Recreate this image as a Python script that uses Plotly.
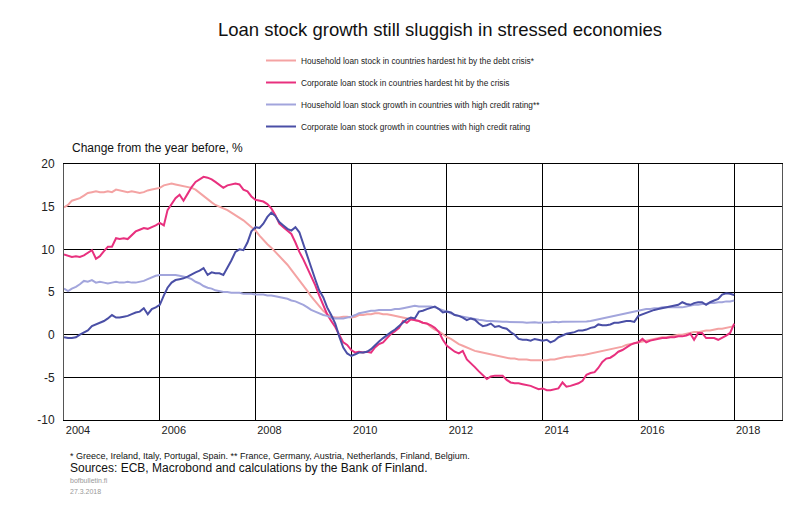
import pandas as pd
import plotly.graph_objects as go

# Monthly observations, January 2004 - January 2018
months = pd.date_range("2004-01-01", "2018-01-01", freq="MS")

hh_stressed = [
    14.9, 15.2, 15.7, 15.9, 16.0, 16.3, 16.6, 16.7, 16.8, 16.7, 16.7, 16.8,
    16.7, 17.0, 16.9, 16.8, 16.7, 16.8, 16.7, 16.6, 16.7, 16.9, 17.0, 17.1,
    17.2, 17.5, 17.6, 17.7, 17.6, 17.5, 17.4, 17.3, 17.2, 17.0, 16.6, 16.3,
    15.9, 15.5, 15.2, 15.0, 14.8, 14.6, 14.3, 14.0, 13.7, 13.4, 13.0, 12.6,
    12.2, 11.6, 11.1, 10.6, 10.2, 9.7, 9.2, 8.8, 8.2, 7.6, 7.0, 6.3,
    5.7, 5.1, 4.5, 3.9, 3.3, 2.8, 2.4, 2.1, 2.0, 2.0, 2.1, 2.1,
    2.0, 2.1, 2.3, 2.3, 2.4, 2.4, 2.5, 2.5, 2.4, 2.4, 2.3, 2.2,
    2.1, 2.0, 1.9, 1.8, 1.7, 1.6, 1.4, 1.3, 0.9, 0.6, 0.4, 0.0,
    -0.3, -0.5, -0.8, -1.1, -1.3, -1.5, -1.7, -1.9, -2.0, -2.1, -2.2, -2.3,
    -2.4, -2.5, -2.6, -2.7, -2.8, -2.8, -2.9, -2.9, -2.9, -3.0, -3.0, -3.0,
    -3.0, -3.0, -2.9, -2.9, -2.8, -2.7, -2.6, -2.6, -2.5, -2.4, -2.4, -2.3,
    -2.2, -2.1, -2.0, -1.9, -1.8, -1.7, -1.6, -1.5, -1.4, -1.2, -1.1, -1.0,
    -0.9, -0.8, -0.7, -0.6, -0.5, -0.4, -0.3, -0.3, -0.2, -0.1, 0.0, 0.0,
    0.1, 0.2, 0.3, 0.3, 0.4, 0.5, 0.5, 0.6, 0.7, 0.7, 0.8, 0.9,
    1.0,
]

corp_stressed = [
    9.4, 9.2, 9.1, 9.2, 9.1, 9.3, 9.6, 9.9, 8.9, 9.2, 9.8, 10.3,
    10.3, 11.3, 11.2, 11.3, 11.2, 11.7, 12.1, 12.3, 12.5, 12.4, 12.6, 12.8,
    13.1, 12.8, 14.6, 15.3, 16.0, 16.4, 15.7, 16.5, 17.3, 17.9, 18.2, 18.5,
    18.4, 18.2, 17.9, 17.5, 17.2, 17.5, 17.6, 17.7, 17.6, 17.0, 16.8, 16.2,
    15.8, 15.7, 15.6, 15.3, 14.8, 14.0, 13.0, 12.6, 12.2, 11.8, 10.8, 9.7,
    8.8, 7.8, 6.9, 5.8, 4.6, 3.4, 2.4, 1.6, 0.9, 0.0, -0.9, -1.2,
    -1.8, -2.1, -2.0, -2.1, -2.0, -2.1, -1.5, -1.1, -0.9, -0.4, 0.1, 0.4,
    0.8, 1.6, 1.4, 1.8, 1.7, 1.6, 1.4, 1.3, 1.1, 0.8, 0.3, -0.6,
    -1.3, -1.7, -2.0, -2.2, -1.9, -2.9, -3.4, -3.8, -4.3, -4.7, -5.2, -4.9,
    -4.8, -4.8, -4.8, -5.3, -5.6, -5.7, -5.7, -5.8, -5.9, -6.0, -6.2, -6.4,
    -6.3, -6.5, -6.5, -6.4, -6.3, -5.6, -6.1, -6.0, -5.8, -5.7, -5.4, -4.7,
    -4.5, -4.4, -3.9, -3.2, -2.8, -2.7, -2.4, -2.0, -1.8, -1.5, -1.2, -1.0,
    -0.9, -0.5, -0.9, -0.7, -0.6, -0.5, -0.4, -0.4, -0.3, -0.3, -0.2, -0.2,
    -0.1, 0.1, -0.6, 0.2, 0.2, -0.4, -0.4, -0.4, -0.6, -0.4, -0.1, 0.2,
    1.3,
]

hh_high = [
    5.4, 5.1, 5.4, 5.6, 5.9, 6.3, 6.2, 6.4, 6.1, 6.2, 6.1, 6.0,
    6.1, 6.2, 6.1, 6.1, 6.2, 6.1, 6.1, 6.2, 6.3, 6.5, 6.7, 6.9,
    7.0, 7.0, 7.0, 7.0, 7.0, 6.9, 6.8, 6.7, 6.5, 6.2, 6.0, 5.7,
    5.5, 5.4, 5.2, 5.1, 5.0, 5.0, 4.9, 4.9, 4.9, 4.8, 4.8, 4.8,
    4.7, 4.7, 4.7, 4.6, 4.6, 4.5, 4.4, 4.3, 4.2, 4.0, 3.9, 3.7,
    3.5, 3.2, 2.9, 2.7, 2.5, 2.3, 2.2, 2.0, 1.9, 1.9, 1.9, 2.0,
    2.1, 2.3, 2.5, 2.6, 2.7, 2.8, 2.8, 2.9, 2.9, 2.9, 2.9, 3.0,
    3.0, 3.1, 3.2, 3.3, 3.4, 3.3, 3.3, 3.3, 3.3, 3.2, 3.0, 2.9,
    2.7, 2.5, 2.3, 2.2, 2.1, 2.0, 1.9, 1.8, 1.75, 1.7, 1.6, 1.6,
    1.55, 1.5, 1.5, 1.5, 1.5, 1.45, 1.45, 1.45, 1.4, 1.45, 1.45, 1.4,
    1.4, 1.45, 1.45, 1.5, 1.45, 1.5, 1.5, 1.5, 1.5, 1.5, 1.55, 1.55,
    1.6, 1.7, 1.75, 1.85, 1.95, 2.05, 2.2, 2.3, 2.4, 2.5, 2.6, 2.7,
    2.8, 2.9, 3.0, 3.0, 3.1, 3.1, 3.2, 3.2, 3.2, 3.2, 3.2, 3.2,
    3.3, 3.4, 3.5, 3.5, 3.6, 3.6, 3.7, 3.7, 3.8, 3.8, 3.9, 3.9,
    4.0,
]

corp_high = [
    -0.3, -0.4, -0.4, -0.3, 0.0, 0.3, 0.5, 1.0, 1.2, 1.4, 1.6, 1.9,
    2.3, 2.0, 2.0, 2.1, 2.2, 2.4, 2.6, 2.7, 3.1, 2.4, 3.0, 3.2,
    3.5, 4.6, 5.5, 6.1, 6.4, 6.5, 6.6, 6.8, 7.1, 7.3, 7.5, 7.8,
    7.0, 7.3, 7.2, 7.2, 7.0, 7.8, 8.7, 9.7, 10.0, 9.9, 10.8, 12.1,
    12.6, 12.5, 13.0, 13.8, 14.3, 13.9, 13.2, 12.8, 12.4, 12.2, 12.6, 12.0,
    10.5, 9.2, 7.9, 6.5, 5.2, 4.4, 3.2, 2.3, 1.3, -0.2, -1.5, -2.2,
    -2.5, -2.3, -2.1, -2.1, -2.0, -1.7, -1.2, -0.8, -0.4, 0.0, 0.3, 0.6,
    1.0, 1.4, 1.8, 2.0, 1.9, 2.7, 2.8, 3.0, 3.2, 3.3, 3.0, 2.6,
    2.7, 2.6, 2.3, 2.2, 2.0, 1.7, 1.9, 1.75, 1.3, 1.0, 1.1, 1.3,
    0.9, 1.0, 0.8, 0.7, 0.3, 0.0, -0.5, -0.6, -0.6, -0.7, -0.5, -0.6,
    -0.7, -0.6, -0.9, -0.7, -0.3, -0.1, 0.1, 0.2, 0.3, 0.5, 0.5, 0.6,
    0.8, 0.9, 1.2, 1.1, 1.1, 1.2, 1.4, 1.4, 1.5, 1.6, 1.6, 1.5,
    2.2, 2.4, 2.6, 2.8, 2.9, 3.0, 3.1, 3.2, 3.3, 3.4, 3.5, 3.8,
    3.6, 3.5, 3.7, 3.8, 3.8, 3.5, 3.8, 4.0, 4.2, 4.7, 4.85, 4.8,
    4.65,
]

series_names = [
    "Household loan stock in countries hardest hit by the debt crisis*",
    "Corporate loan stock in countries hardest hit by the crisis",
    "Household loan stock growth in countries with high credit rating**",
    "Corporate loan stock growth in countries with high credit rating",
]
series_colors = ["#F4A3A3", "#E8307E", "#A2A5DC", "#4A4FA6"]
series_values = [hh_stressed, corp_stressed, hh_high, corp_high]

x_tick_years = list(range(2004, 2019, 2))
y_tick_values = [-10, -5, 0, 5, 10, 15, 20]

FONT = "Liberation Sans, Arial, sans-serif"

W, H = 800, 522
ML, MR, MT, MB = 64, 18, 164, 102
PW, PH = W - ML - MR, H - MT - MB


def px_to_paper(px, py):
    return (px - ML) / PW, (H - MB - py) / PH


fig = go.Figure()
for i, (name, color, vals) in enumerate(zip(series_names, series_colors, series_values)):
    fig.add_trace(go.Scatter(
        x=months, y=vals, mode="lines", name=name,
        legendgroup=f"g{i}",
        line=dict(color=color, width=2),
    ))

fig.update_layout(
    width=W, height=H,
    paper_bgcolor="white", plot_bgcolor="white",
    margin=dict(l=ML, r=MR, t=MT, b=MB, autoexpand=False),
    font=dict(family=FONT, color="#222"),
    showlegend=True,
    title=dict(
        text="Loan stock growth still sluggish in stressed economies",
        x=440 / W, xanchor="center", xref="container",
        y=1 - 30 / H, yanchor="middle", yref="container",
        font=dict(size=18.5, color="#111", family=FONT),
    ),
    legend=dict(
        xref="container", yref="container",
        x=261 / W, y=1 - 46 / H, xanchor="left", yanchor="top",
        font=dict(size=8.3, color="#222", family=FONT),
        tracegroupgap=3, itemwidth=30,
        bgcolor="rgba(0,0,0,0)",
    ),
)

fig.update_xaxes(
    type="date",
    range=["2004-01-01", "2019-01-01"],
    tickmode="array",
    tickvals=[f"{y}-01-01" for y in x_tick_years],
    ticktext=[str(y) for y in x_tick_years],
    ticklabelshift=14,
    tickangle=0,
    showgrid=True, gridcolor="#000", gridwidth=1,
    showline=True, linecolor="#000", linewidth=1, mirror=True,
    ticks="", zeroline=False,
    tickfont=dict(size=11, color="#222", family=FONT),
)
fig.update_yaxes(
    range=[-10, 20],
    tickmode="array", tickvals=y_tick_values,
    ticktext=[str(v) for v in y_tick_values],
    showgrid=True, gridcolor="#000", gridwidth=1,
    showline=True, linecolor="#555", linewidth=1, mirror=True,
    zeroline=False, ticks="",
    ticklabelstandoff=6,
    tickfont=dict(size=12, color="#222", family=FONT),
)

annotations = [
    ("Change from the year before, %", 70, 148, 12, "#111"),
    ("* Greece, Ireland, Italy, Portugal, Spain. ** France, Germany, Austria, Netherlands, Finland, Belgium.",
     68, 456, 9, "#111"),
    ("Sources: ECB, Macrobond and calculations by the Bank of Finland.", 68, 468, 12, "#111"),
    ("bofbulletin.fi", 68, 480, 7, "#999999"),
    ("27.3.2018", 68, 491, 7, "#999999"),
]
for text, px, py, size, color in annotations:
    ax, ay = px_to_paper(px, py)
    fig.add_annotation(
        text=text, xref="paper", yref="paper",
        x=ax, y=ay, xanchor="left", yanchor="middle",
        showarrow=False, font=dict(size=size, color=color, family=FONT),
    )

fig.write_html(
    "out.html",
    config={"displayModeBar": False},
    post_script="document.body.style.margin='0px';",
)
